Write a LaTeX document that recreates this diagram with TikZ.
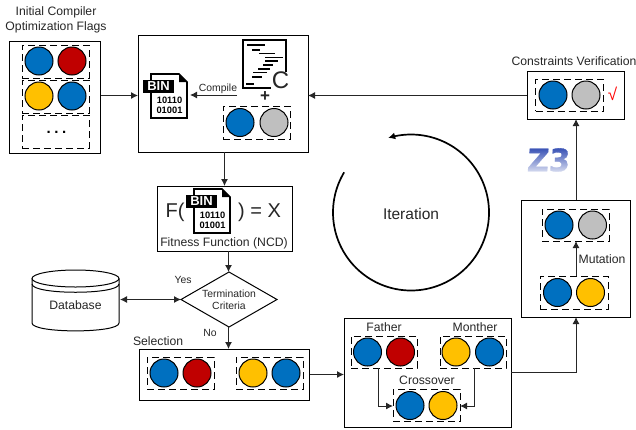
\documentclass[tikz,border=0pt]{standalone}
\usepackage{fontspec}
\setmainfont{Liberation Sans}
\newfontfamily\zfont[BoldFeatures={FakeSlant=0.07,FakeStretch=0.97,FakeBold=1.0}]{DejaVu Sans}
\usetikzlibrary{arrows.meta,shapes.geometric,fadings,calc}
\tikzfading[name=zfade,top color=transparent!100,bottom color=transparent!12]
\definecolor{cblue}{HTML}{0070C0}
\definecolor{cred}{HTML}{C00000}
\definecolor{cyel}{HTML}{FFC000}
\definecolor{cgry}{HTML}{BFBFBF}
\definecolor{txt}{HTML}{262626}
\definecolor{zblue}{HTML}{2A45B0}
\newcommand{\fsz}[1]{\fontsize{#1}{#1}\selectfont}
\tikzset{
  solidbox/.style={draw=black,line width=1pt,inner sep=0pt,outer sep=0pt},
  dashbox/.style={draw=black,line width=1pt,dash pattern=on 7pt off 4pt,inner sep=0pt,outer sep=0pt},
  gene/.style={circle,draw=black,line width=1pt,minimum size=28pt,inner sep=0pt,outer sep=0pt,fill=#1},
  lbl/.style={inner sep=0pt,outer sep=0pt,text=txt,font=\fsz{12.2},align=center},
  lblsm/.style={lbl,font=\fsz{10.4}},
  arr/.style={draw=black!85,line width=1pt,-{Latex[length=7pt,width=7pt]}},
  codeln/.style={line width=1.3pt,draw=black},
}
\newcommand{\bx}[6][solidbox]{%
  \pgfmathsetmacro\bw{#5-#3}\pgfmathsetmacro\bh{#6-#4}%
  \node[#1,minimum width=\bw pt,minimum height=\bh pt] (#2) at ({(#3+#5)/2},{(#4+#6)/2}) {};}
\newcommand{\pair}[7]{% prefix, x1,y, col1, x2, y2, col2
  \node[gene=#4] (#1a) at (#2,#3) {};
  \node[gene=#7] (#1b) at (#5,#6) {};}
\newcommand{\binicon}[3]{%
  \begin{scope}[shift={(#2,#3)}]
    \draw[line width=1.6pt,fill=white,line join=miter] (0,0)--(28,0)--(36,8)--(36,44)--(0,44)--cycle;
    \fill (28,0)--(28,8)--(36,8)--cycle;
    \node[fill=black,text=white,font=\fsz{13}\bfseries,inner sep=0pt,minimum width=31pt,minimum height=13pt] (#1lab) at (7.5,12.5) {BIN};
    \node[inner sep=0pt,font=\fsz{9.3}\bfseries,align=center] (#1bits) at (18.5,31) {10110\\[1pt]01001};
    \coordinate (#1end) at (39,22);
  \end{scope}}
\begin{document}
\begin{tikzpicture}[x=1pt,y=-1pt]
\useasboundingbox (0,0) rectangle (636,429);
% coordinates for shared connector heights
\coordinate (yA) at (0,95.5);
\coordinate (xMain) at (224.5,0);
\coordinate (xDia) at (228.5,0);
\coordinate (xMut) at (576,0);
\coordinate (ySel) at (0,374.5);
\coordinate (yCr) at (0,372);
\coordinate (yChild) at (0,406);
\coordinate (xF) at (378,0);
\coordinate (xM) at (474,0);
\coordinate (compStart) at (237,95);
%
% --- initial flags
\node[lbl] (title) at (56,20) {Initial Compiler\\[3pt]Optimization Flags};
\bx{flags}{9.5}{41}{100.5}{153}
\bx[dashbox]{f1}{22}{45}{89}{78}
\bx[dashbox]{f2}{22}{80}{89}{113}
\bx[dashbox]{f3}{22}{115}{89}{148}
\pair{fa}{39}{61}{cblue}{72}{61}{cred}
\pair{fb}{39}{96}{cyel}{72}{96}{cblue}
\node[inner sep=0pt,font=\fsz{15}\bfseries] (dots) at (56.5,132) {.\kern3.6pt.\kern3.6pt.};
%
% --- compile box
\bx{main}{138}{35}{308}{152}
\binicon{ba}{151}{74}
\draw[line width=1.6pt] (243,40) rectangle (286,88);
\foreach \xa/\xb/\yy in {247/265/45,252/260/50,259/275/53.5,265/283/57.3,265/278/61,263/273/65,258/270/69,253/267/72.7,252/262/77,246/254/84}
  \draw[codeln] (\xa,\yy) -- (\xb,\yy);
\node[fill=white,inner sep=0.5pt,font=\fsz{24},text=txt] (clet) at (280.5,80.5) {C};
\node[inner sep=0pt,font=\fsz{17}\bfseries,text=txt] (plus) at (265,96.5) {+};
\bx[dashbox]{mg}{223}{106}{290}{139}
\pair{mc}{240}{122.5}{cblue}{274}{122.5}{cgry}
\node[lblsm] (compile) at (218,88.5) {Compile};
\draw[arr] (compStart) -- (baend|-compStart);
%
% --- fitness
\bx{fit}{157}{186}{292}{251}
\node[inner sep=0pt,font=\fsz{20},text=txt] (ff) at (175,212.5) {F(};
\binicon{bb}{194}{189}
\node[inner sep=0pt,font=\fsz{20},text=txt] (fx) at (259.5,212.5) {) = X};
\node[lbl] (fitl) at (224,243) {Fitness Function (NCD)};
%
% --- termination
\node[diamond,draw=black,line width=1pt,aspect=1.745,minimum width=96pt,minimum height=55pt,inner sep=0pt,outer sep=0pt] (dia) at (229,299.5) {};
\node[lblsm] (dial) at (229,300) {Termination\\[2pt]Criteria};
\node[lblsm] (yes) at (183,280) {Yes};
\node[lblsm] (no) at (210,333) {No};
%
% --- database
\coordinate (dbE) at (120,299.5);
\draw[line width=1pt,fill=white] (32,278.5) -- (32,323) .. controls (32,333.5) and (119,333.5) .. (119,323) -- (119,278.5);
\draw[line width=1pt] (75.5,278.5) ellipse [x radius=43.5,y radius=8.5];
\draw[line width=1pt] (32,284) .. controls (32,295) and (119,295) .. (119,284);
\node[lbl] (db) at (75.5,305.5) {Database};
%
% --- selection
\node[lbl,anchor=west] (sell) at (133,341) {Selection};
\bx{sel}{139.5}{349}{309.5}{400}
\bx[dashbox]{s1}{147}{357}{214}{389}
\bx[dashbox]{s2}{236}{357}{303}{389}
\pair{sa}{164}{373}{cblue}{197}{373}{cred}
\pair{sb}{253}{373}{cyel}{286}{373}{cblue}
%
% --- crossover
\bx{cross}{344}{318}{511}{427}
\node[lbl] (father) at (384,327.5) {Father};
\node[lbl] (mother) at (475,327.5) {Monther};
\bx[dashbox]{cf}{351}{336}{417}{368}
\bx[dashbox]{cm}{440}{336}{506}{368}
\pair{ca}{367.5}{352}{cblue}{400.5}{352}{cred}
\pair{cb}{456}{352}{cyel}{489.5}{352}{cblue}
\node[lbl] (crossl) at (427,380) {Crossover};
\bx[dashbox]{cc}{393}{389}{460}{421}
\pair{cd}{410}{405.5}{cblue}{443}{405.5}{cyel}
%
% --- mutation
\bx{mut}{521}{200}{630}{317}
\bx[dashbox]{m1}{542}{209}{609}{241}
\pair{me}{559}{225}{cblue}{592.5}{225}{cgry}
\bx[dashbox]{m2}{540}{276}{608}{309}
\pair{mf}{557.5}{292.5}{cblue}{590.5}{292.5}{cyel}
\node[lbl] (mutl) at (602,259) {Mutation};
%
% --- verification
\node[lbl] (verl) at (574,61) {Constraints Verification};
\bx{ver}{527}{71.5}{624}{119}
\bx[dashbox]{v1}{535.5}{79}{603}{111}
\pair{va}{553}{95}{cblue}{586}{95}{cgry}
\node[inner sep=0pt,font=\fsz{17},text=red] (chk) at (612.5,94) {√};
%
% --- Z3 logo
\node[inner sep=0pt,font=\zfont\fsz{31}\bfseries,text=zblue] (z3) at (548,160) {Z3};
\fill[white,path fading=zfade] (524,146) rectangle (572,174);
%
% --- iteration
\node[inner sep=0pt,font=\fsz{15.5},text=txt] (iter) at (411,214) {Iteration};
\draw[line width=1.7pt,-{Latex[length=7pt,width=7pt]}] plot[domain=149:467,samples=160] ({411+78*cos(\x)},{212.5-78*sin(\x)});
%
% --- connectors
\draw[arr] (flags.east|-yA) -- (main.west|-yA);
\draw[arr] (ver.west|-yA) -- (main.east|-yA);
\draw[arr] (main.south-|xMain) -- (fit.north-|xMain);
\draw[arr] (fit.south-|xDia) -- (dia.north-|xDia);
\draw[arr] (dia.south-|xDia) -- (sel.north-|xDia);
\draw[draw=black!85,line width=1pt,{Latex[length=7pt,width=7pt]}-{Latex[length=7pt,width=7pt]}] (dbE) -- (dia.west);
\draw[arr] (sel.east|-ySel) -- (cross.west|-ySel);
\draw[arr] (cf.south-|xF) |- (cc.west|-yChild);
\draw[arr] (cm.south-|xM) |- (cc.east|-yChild);
\draw[arr] (cross.east|-yCr) -| (mut.south-|xMut);
\draw[arr] (m2.north-|xMut) -- (m1.south-|xMut);
\draw[arr] (mut.north-|xMut) -- (ver.south-|xMut);
\end{tikzpicture}
\end{document}
